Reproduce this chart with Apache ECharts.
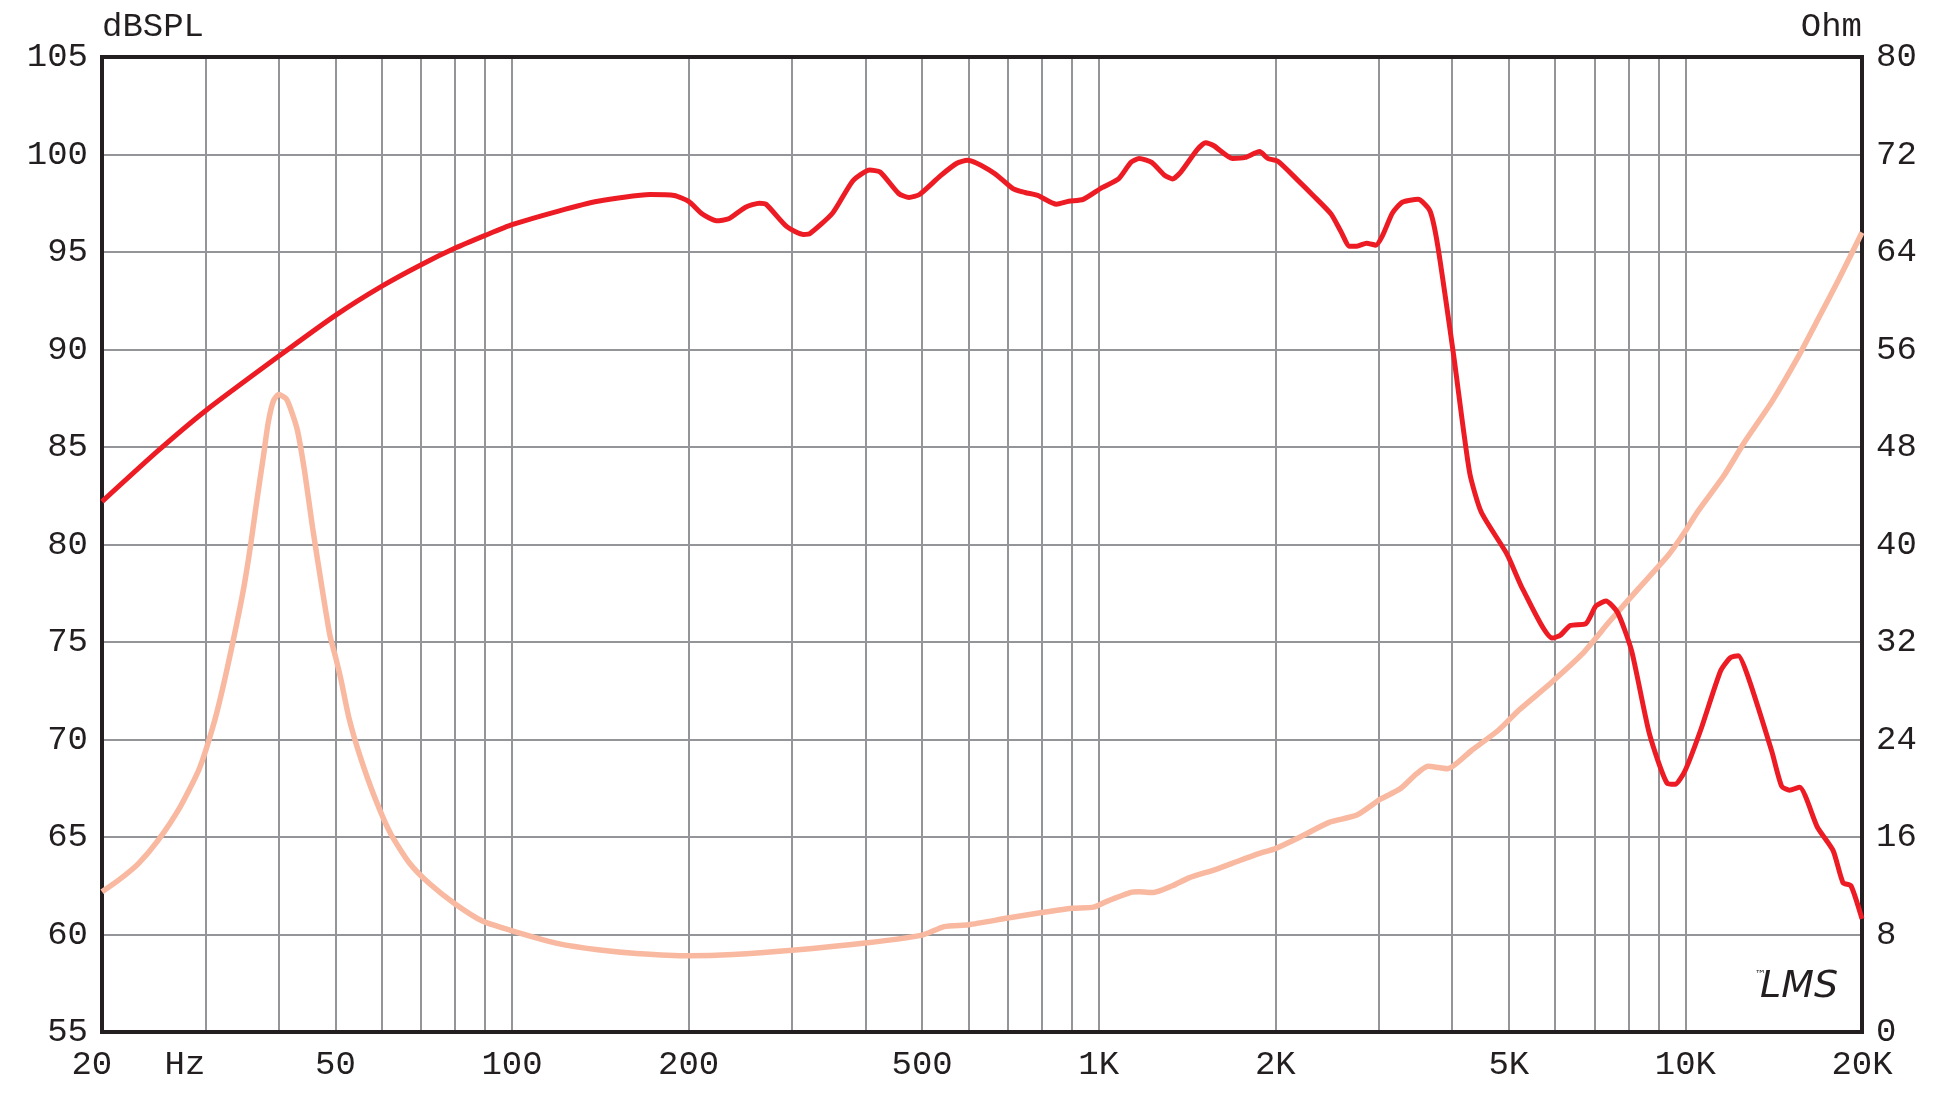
<!DOCTYPE html>
<html><head><meta charset="utf-8">
<script src="https://cdn.jsdelivr.net/npm/echarts@6/dist/echarts.min.js"></script>
<style>html,body{margin:0;padding:0;background:#fff}#c{width:1946px;height:1120px}</style>
</head><body><div id="c"></div>
<script>
// SPL response (Hz, dBSPL)
const splFreq = [20,24.9,30,40,50,60,70,80,90,100,120,140,172,189,200,211,223,234,250,264,271,294,314,322,352,381,407,424,456,475,495,537,573,597,663,714,749,787,847,889,941,1013,1081,1135,1172,1231,1293,1335,1380,1472,1521,1571,1691,1776,1880,1941,2020,2181,2320,2489,2587,2676,2754,2862,2967,3047,3167,3292,3502,3670,3784,4027,4287,4489,4966,5283,5935,6123,6363,6771,7040,7320,7667,8097,8682,9311,9604,9986,10623,11475,11932,12307,12794,14035,14593,15054,15651,16788,17858,18566,19150,20000];
const splDb = [82.2,84.8,86.85,89.65,91.75,93.25,94.35,95.2,95.85,96.4,97.1,97.6,97.95,97.9,97.6,96.95,96.6,96.7,97.3,97.5,97.45,96.3,95.9,95.95,97.0,98.65,99.2,99.1,98.0,97.8,97.95,98.9,99.55,99.7,99.05,98.25,98.05,97.9,97.45,97.6,97.7,98.3,98.75,99.6,99.8,99.6,98.95,98.75,99.1,100.25,100.6,100.45,99.8,99.85,100.15,99.8,99.65,98.7,97.9,96.95,96.05,95.3,95.3,95.45,95.35,95.85,97.0,97.55,97.7,97.1,95.3,89.7,83.7,81.65,79.5,77.7,75.2,75.35,75.85,75.95,76.85,77.1,76.5,74.55,70.3,67.75,67.7,68.4,70.5,73.5,74.2,74.3,73.2,69.4,67.6,67.4,67.55,65.5,64.3,62.65,62.5,60.8];
// Impedance (Hz, Ohm)
const impFreq = [20,21.4,23.05,24.9,27.2,29.3,31.1,32.3,33.6,34.9,35.8,36.7,37.7,38.4,39.2,40,41.3,43,44.3,45.7,47.3,48.9,50,51.1,52.7,55.1,58.5,62.2,67,72.2,80,89,100,120,140,163,200,238,300,400,500,545,600,700,800,900,980,1030,1135,1172,1240,1335,1425,1585,1735,1880,2000,2205,2470,2754,3020,3265,3475,3640,3930,4320,4810,5200,5885,6665,7430,8290,9380,10000,10460,11650,12590,14035,15650,16920,18280,20000];
const impOhm = [11.5,12.5,13.8,15.7,18.5,21.6,25.5,28.7,32.5,36.5,39.8,43.5,47.3,50.0,51.8,52.3,51.9,49.5,46.0,41.4,36.8,32.6,30.8,28.9,25.8,22.6,19.1,16.2,13.8,12.2,10.5,9.1,8.3,7.25,6.75,6.45,6.25,6.35,6.7,7.3,7.95,8.65,8.8,9.35,9.8,10.15,10.25,10.7,11.45,11.5,11.45,12.0,12.65,13.35,14.05,14.65,15.05,16.0,17.2,17.8,19.1,19.95,21.15,21.8,21.6,23.1,24.8,26.4,28.6,31.0,33.7,36.3,39.2,41.1,42.6,45.7,48.35,51.7,55.6,58.7,61.8,65.6];
// Axis ticks
const gridFreqs = [30,40,50,60,70,80,90,100,200,300,400,500,600,700,800,900,1000,2000,3000,4000,5000,6000,7000,8000,9000,10000];
const labelFreqs = [20,30,50,100,200,500,1000,2000,5000,10000,20000];
const labelTexts = ['20 ','Hz  ','50','100','200','500','1K','2K','5K','10K','20K'];

const FONT = '"Liberation Mono", "DejaVu Sans Mono", monospace';
const INK = '#231f20';
const GRID = '#939598';

function freqLabel(v) {
  let best = 0, bd = Infinity;
  labelFreqs.forEach((f, i) => { const d = Math.abs(Math.log(v) - Math.log(f)); if (d < bd) { bd = d; best = i; } });
  return labelTexts[best];
}

const chart = echarts.init(document.getElementById('c'), null, {renderer: 'canvas'});
chart.setOption({
  animation: false,
  backgroundColor: '#ffffff',
  grid: {left: 102, right: 84, top: 57, bottom: 88, show: true, borderColor: INK, borderWidth: 4, backgroundColor: 'transparent', z: 3},
  xAxis: {
    type: 'log', logBase: 10, min: 20, max: 20000,
    axisLine: {show: false},
    axisTick: {show: false, customValues: gridFreqs},
    splitLine: {show: true, lineStyle: {color: GRID, width: 2}},
    axisLabel: {customValues: labelFreqs, formatter: freqLabel, margin: 16, fontSize: 34, color: INK, fontFamily: FONT, showMinLabel: true, showMaxLabel: true}
  },
  yAxis: [{
    type: 'value', min: 55, max: 105, interval: 5, position: 'left',
    axisLine: {show: false}, axisTick: {show: false},
    splitLine: {show: true, lineStyle: {color: GRID, width: 2}},
    axisLabel: {margin: 14, fontSize: 34, color: INK, fontFamily: FONT},
    name: 'dBSPL', nameLocation: 'end', nameGap: 30,
    nameTextStyle: {align: 'left', verticalAlign: 'middle', fontSize: 34, color: INK, fontFamily: FONT}
  }, {
    type: 'value', min: 0, max: 80, interval: 8, position: 'right',
    axisLine: {show: false}, axisTick: {show: false}, splitLine: {show: false},
    axisLabel: {margin: 14, fontSize: 34, color: INK, fontFamily: FONT},
    name: 'Ohm', nameLocation: 'end', nameGap: 30,
    nameTextStyle: {align: 'right', verticalAlign: 'middle', fontSize: 34, color: INK, fontFamily: FONT}
  }],
  series: [{
    name: 'Impedance', type: 'line', yAxisIndex: 1, symbol: 'none', smooth: 0.2, z: 4,
    lineStyle: {color: '#f9b8a0', width: 5.5},
    data: impFreq.map((f, i) => [f, impOhm[i]])
  }, {
    name: 'SPL', type: 'line', yAxisIndex: 0, symbol: 'none', smooth: 0.2, z: 5,
    lineStyle: {color: '#ed1c24', width: 5},
    data: splFreq.map((f, i) => [f, splDb[i]])
  }],
  graphic: [
    {type: 'text', left: 1760, top: 968, style: {text: 'LMS', font: 'italic 38px "DejaVu Sans"', fill: INK}},
    {type: 'text', left: 1755, top: 970, style: {text: '\u2122', font: '11px "DejaVu Sans"', fill: INK}}
  ]
});
</script></body></html>
